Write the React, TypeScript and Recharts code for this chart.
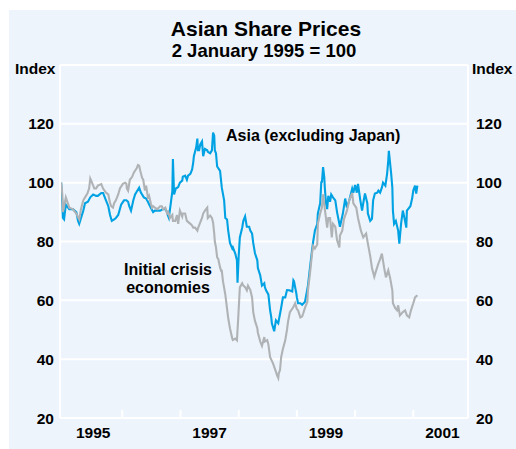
import { LineChart, Line, XAxis, YAxis, CartesianGrid, ReferenceLine } from "recharts";

// Asia (excluding Japan), 2 January 1995 = 100
const asiaDates = [
  1994.95, 1994.97, 1994.98, 1995.0, 1995.03, 1995.09, 1995.15, 1995.21, 1995.24, 1995.26,
  1995.33, 1995.36, 1995.41, 1995.45, 1995.5, 1995.55, 1995.58, 1995.64, 1995.67, 1995.7,
  1995.72, 1995.76, 1995.79, 1995.82, 1995.86, 1995.89, 1995.93, 1995.98, 1996.03, 1996.07,
  1996.1, 1996.12, 1996.15, 1996.19, 1996.22, 1996.25, 1996.29, 1996.32, 1996.37, 1996.41,
  1996.44, 1996.49, 1996.53, 1996.56, 1996.6, 1996.65, 1996.7, 1996.74, 1996.77, 1996.79,
  1996.8, 1996.84, 1996.86, 1996.87, 1996.89, 1996.92, 1996.96, 1996.99, 1997.03, 1997.04,
  1997.08, 1997.11, 1997.13, 1997.17, 1997.2, 1997.22, 1997.23, 1997.27, 1997.29, 1997.3,
  1997.32, 1997.34, 1997.37, 1997.39, 1997.42, 1997.46, 1997.47, 1997.51, 1997.54, 1997.56,
  1997.58, 1997.59, 1997.61, 1997.63, 1997.68, 1997.71, 1997.75, 1997.77, 1997.8, 1997.82,
  1997.85, 1997.89, 1997.9, 1997.94, 1997.97, 1997.98, 1998.0, 1998.02, 1998.06, 1998.08,
  1998.11, 1998.14, 1998.18, 1998.2, 1998.23, 1998.25, 1998.28, 1998.32, 1998.33, 1998.37,
  1998.4, 1998.44, 1998.45, 1998.47, 1998.51, 1998.54, 1998.56, 1998.57, 1998.61, 1998.64,
  1998.68, 1998.73, 1998.76, 1998.8, 1998.83, 1998.87, 1998.92, 1998.94, 1998.95, 1998.99,
  1999.0, 1999.02, 1999.06, 1999.09, 1999.14, 1999.19, 1999.23, 1999.26, 1999.28, 1999.31,
  1999.35, 1999.36, 1999.4, 1999.42, 1999.43, 1999.45, 1999.47, 1999.48, 1999.5, 1999.52,
  1999.54, 1999.57, 1999.59, 1999.62, 1999.66, 1999.69, 1999.74, 1999.79, 1999.83, 1999.86,
  1999.9, 1999.95, 1999.97, 2000.0, 2000.03, 2000.05, 2000.09, 2000.12, 2000.14, 2000.17,
  2000.21, 2000.22, 2000.26, 2000.29, 2000.31, 2000.34, 2000.38, 2000.4, 2000.43, 2000.46,
  2000.48, 2000.52, 2000.55, 2000.57, 2000.58, 2000.62, 2000.64, 2000.65, 2000.67, 2000.7,
  2000.74, 2000.76, 2000.79, 2000.82, 2000.84, 2000.88, 2000.89, 2000.95, 2000.98, 2001.0,
  2001.03, 2001.05, 2001.07,
];
const asiaValues = [
  100, 93, 88, 87.5, 92.5, 91, 91, 90, 87, 86,
  90.5, 93, 93.5, 95, 96, 95.5, 95.5, 96.5, 96.5, 95,
  94, 92, 89, 87, 87.5, 88, 89, 92.5, 94, 94,
  93.5, 92, 90.5, 94, 96, 97, 98.3, 96.6, 95, 94.6,
  93.5, 91.5, 90, 90.5, 90.5, 90.5, 91, 91, 90, 88.5,
  88, 94, 97, 108, 96, 98, 98.5, 100, 100.7, 102,
  102.4, 101, 102.4, 103, 104.5, 107, 109, 112, 115, 111,
  111, 113, 114, 109, 111.5, 111, 110.5, 110, 111, 117,
  116, 111, 110, 105.5, 104, 98.3, 94, 88, 87.5, 83.7,
  79.5, 77.6, 78, 76, 73.6, 66, 75, 81.4, 84.7, 87,
  88.5, 85, 85, 83.7, 82.7, 79.5, 76, 73.6, 71, 68.5,
  65, 65.8, 64.5, 63.4, 62, 56.6, 54.2, 52.2, 49.5, 53.2,
  52.2, 57.5, 61, 61, 63.5, 63.4, 63, 66.8, 66.5, 62.4,
  61, 59, 59, 58.5, 59.5, 65, 72, 77, 80, 83.7,
  86, 89.5, 93, 100.5, 100, 105.3, 102, 98.3, 93, 91,
  95.5, 93.5, 96, 95, 94, 90, 85, 89.5, 94.6, 91.5,
  94, 98, 96.6, 99.2, 96.6, 99.6, 94, 90.5, 93, 96.3,
  93, 89.5, 87, 87.7, 94, 96.3, 96.6, 97.3, 96.6, 98.3,
  100, 99, 103, 107.5, 110.8, 103, 98.3, 90.5, 86, 87,
  83.7, 79.3, 86, 90.5, 88.8, 84.7, 90.5, 92, 94.6, 97.3,
  99, 96.3, 99,
];

// Initial crisis economies, 2 January 1995 = 100
const crisisDates = [
  1994.95, 1994.97, 1994.98, 1995.03, 1995.09, 1995.15, 1995.21, 1995.26, 1995.29, 1995.33,
  1995.36, 1995.4, 1995.43, 1995.45, 1995.48, 1995.52, 1995.55, 1995.58, 1995.64, 1995.67,
  1995.72, 1995.76, 1995.79, 1995.81, 1995.84, 1995.86, 1995.89, 1995.93, 1995.96, 1996.01,
  1996.05, 1996.07, 1996.08, 1996.1, 1996.13, 1996.17, 1996.2, 1996.25, 1996.27, 1996.29,
  1996.31, 1996.34, 1996.36, 1996.39, 1996.41, 1996.44, 1996.46, 1996.49, 1996.51, 1996.53,
  1996.56, 1996.6, 1996.65, 1996.68, 1996.7, 1996.74, 1996.77, 1996.79, 1996.82, 1996.86,
  1996.87, 1996.91, 1996.94, 1996.96, 1996.99, 1997.03, 1997.04, 1997.08, 1997.11, 1997.17,
  1997.2, 1997.22, 1997.25, 1997.29, 1997.3, 1997.34, 1997.37, 1997.39, 1997.42, 1997.46,
  1997.47, 1997.51, 1997.54, 1997.56, 1997.58, 1997.59, 1997.61, 1997.63, 1997.65, 1997.68,
  1997.7, 1997.71, 1997.73, 1997.77, 1997.8, 1997.82, 1997.85, 1997.89, 1997.9, 1997.94,
  1997.97, 1997.99, 1998.02, 1998.06, 1998.08, 1998.11, 1998.14, 1998.16, 1998.2, 1998.23,
  1998.25, 1998.28, 1998.32, 1998.33, 1998.37, 1998.4, 1998.44, 1998.45, 1998.49, 1998.51,
  1998.54, 1998.59, 1998.63, 1998.66, 1998.68, 1998.69, 1998.71, 1998.73, 1998.76, 1998.8,
  1998.83, 1998.85, 1998.88, 1998.94, 1998.97, 1999.0, 1999.02, 1999.06, 1999.09, 1999.11,
  1999.14, 1999.18, 1999.19, 1999.23, 1999.26, 1999.28, 1999.31, 1999.35, 1999.36, 1999.4,
  1999.43, 1999.45, 1999.48, 1999.52, 1999.54, 1999.57, 1999.6, 1999.62, 1999.66, 1999.69,
  1999.73, 1999.74, 1999.78, 1999.81, 1999.86, 1999.9, 1999.95, 1999.97, 2000.02, 2000.05,
  2000.1, 2000.14, 2000.19, 2000.22, 2000.26, 2000.29, 2000.33, 2000.36, 2000.4, 2000.43,
  2000.46, 2000.5, 2000.53, 2000.57, 2000.6, 2000.64, 2000.65, 2000.69, 2000.72, 2000.74,
  2000.77, 2000.82, 2000.86, 2000.89, 2000.93, 2000.96, 2001.0, 2001.03, 2001.07,
];
const crisisValues = [
  100, 96, 90, 95, 91.5, 91, 89.5, 87.5, 91, 94,
  95, 96.3, 98, 101.4, 100, 98, 98, 99, 99.5, 98,
  96.6, 96, 93, 92, 91.5, 93, 94, 96, 98, 99.6,
  100, 99.6, 98, 97.3, 101, 102, 103.5, 105, 106, 105.8,
  104, 101.7, 101, 97.3, 99, 95, 95.6, 93, 91.5, 92,
  91.5, 91, 92, 92, 91, 91.5, 89.5, 90, 88, 89,
  87, 87, 89, 86, 90.5, 88.5, 89.5, 89.5, 87, 86,
  85.4, 84.7, 84.7, 83.7, 84.5, 86.5, 88, 89.5, 90.5, 91.5,
  88, 88.8, 88, 86.5, 82.7, 80, 78, 74.6, 74, 71.2,
  70, 70, 66.5, 62, 57.2, 54, 50.5, 47, 46.5, 47,
  46.4, 53.2, 64.4, 65.8, 65, 64.5, 63.4, 65, 63.5, 61,
  56, 53, 50.5, 49, 46, 44.5, 47.5, 46, 46.5, 45,
  40.7, 38.6, 36.3, 34.5, 33.6, 35.3, 36.3, 40.7, 43.5, 46.4,
  50, 53, 56, 57.7, 59, 57, 56.6, 54.2, 54.5, 55.6,
  57.5, 59.5, 63.4, 70, 75.9, 78.5, 77.6, 79, 86, 89.5,
  91.5, 96, 91, 84.7, 88, 88, 81.4, 86, 85, 80.5,
  78, 82, 83.7, 87.7, 90.5, 94, 96.5, 93, 91.5, 88,
  83.7, 81.4, 82.7, 79.3, 75, 71, 68, 70, 72.5, 74,
  75.9, 71, 67.8, 70.2, 67.8, 63.4, 59, 57.3, 56.6, 58.3,
  54.9, 56, 56.6, 54.9, 54.2, 56.6, 59, 61, 61.7,
];

const yTicks = [20, 40, 60, 80, 100, 120];
const yearTicks = [1996, 1997, 1998, 1999, 2000, 2001];
const yearLabels = [1995, 1997, 1999, 2001];

const asiaData = asiaDates.map((t, i) => ({ t, v: asiaValues[i] }));
const crisisData = crisisDates.map((t, i) => ({ t, v: crisisValues[i] }));

const FONT = '"Liberation Sans", Arial, Helvetica, sans-serif';
const BG = "#edf4fb";

// ticks at year boundaries, labels centred in the middle of the year
const xTicks = [...yearTicks, ...yearLabels.map((y) => y + 0.5)].sort((a, b) => a - b);

function YearTick(props: any) {
  const { x, y, payload } = props;
  const v = payload.value as number;
  if (Number.isInteger(v)) {
    return <line x1={x} x2={x} y1={y} y2={y - 8} stroke="#fff" strokeWidth={2} />;
  }
  return (
    <text x={x} y={y + 20} textAnchor="middle" fill="#000" fontSize={15.5} fontWeight={700} fontFamily={FONT}>
      {Math.floor(v)}
    </text>
  );
}

function RightTick(props: any) {
  const { x, y, payload } = props;
  return (
    <text x={x} y={y} dy="0.355em" textAnchor="start" fill="#000" fontSize={15.5} fontWeight={700} fontFamily={FONT}>
      {payload.value}
    </text>
  );
}

export default function App() {
  const tickStyle = { fill: "#000", fontSize: 15.5, fontWeight: 700, fontFamily: FONT };
  return (
    <div style={{ position: "absolute", left: 9, top: 10, width: 507, height: 439, background: BG }}>
      <LineChart
        width={507}
        height={439}
        margin={{ top: 55, right: 0, bottom: 0, left: 0 }}
        style={{ fontFamily: FONT }}
      >
        <CartesianGrid vertical={false} stroke="#fff" strokeWidth={2} fill="none" />
        <XAxis
          dataKey="t"
          type="number"
          domain={[1994.93, 2001.94]}
          ticks={xTicks}
          interval={0}
          height={31}
          axisLine={{ stroke: "#fff", strokeWidth: 2 }}
          tickLine={false}
          tickSize={0}
          tickMargin={0}
          tick={<YearTick />}
          allowDataOverflow
        />
        <YAxis
          domain={[20, 140]}
          ticks={yTicks}
          width={51}
          axisLine={{ stroke: "#fff", strokeWidth: 2 }}
          tickLine={false}
          tickSize={0}
          tickMargin={6}
          tick={tickStyle}
          interval={0}
        />
        <YAxis
          yAxisId="r"
          orientation="right"
          domain={[20, 140]}
          ticks={yTicks}
          width={48}
          axisLine={{ stroke: "#fff", strokeWidth: 2 }}
          tickLine={false}
          tickSize={0}
          tickMargin={8}
          tick={<RightTick />}
          interval={0}
        />
        <ReferenceLine y={140} stroke="#fff" strokeWidth={2} />
        <Line
          data={asiaData}
          dataKey="v"
          type="linear"
          stroke="#00a2e3"
          strokeWidth={2.1}
          dot={false}
          isAnimationActive={false}
        />
        <Line
          yAxisId="r"
          data={crisisData}
          dataKey="v"
          type="linear"
          stroke="#b0b3b6"
          strokeWidth={2.1}
          dot={false}
          isAnimationActive={false}
        />
      </LineChart>
      <svg
        width={507}
        height={439}
        style={{ position: "absolute", left: 0, top: 0, pointerEvents: "none" }}
        fontFamily={FONT}
        fontWeight={700}
        fill="#000"
      >
        <text x={257} y={26} textAnchor="middle" fontSize={21}>Asian Share Prices</text>
        <text x={255} y={47} textAnchor="middle" fontSize={18.5}>2 January 1995 = 100</text>
        <text x={6} y={64} fontSize={15.5}>Index</text>
        <text x={463} y={64} fontSize={15.5}>Index</text>
        <text x={217} y={130.5} fontSize={16}>Asia (excluding Japan)</text>
        <text x={159} y={265} textAnchor="middle" fontSize={16}>Initial crisis</text>
        <text x={159} y={282.5} textAnchor="middle" fontSize={16}>economies</text>
      </svg>
    </div>
  );
}
